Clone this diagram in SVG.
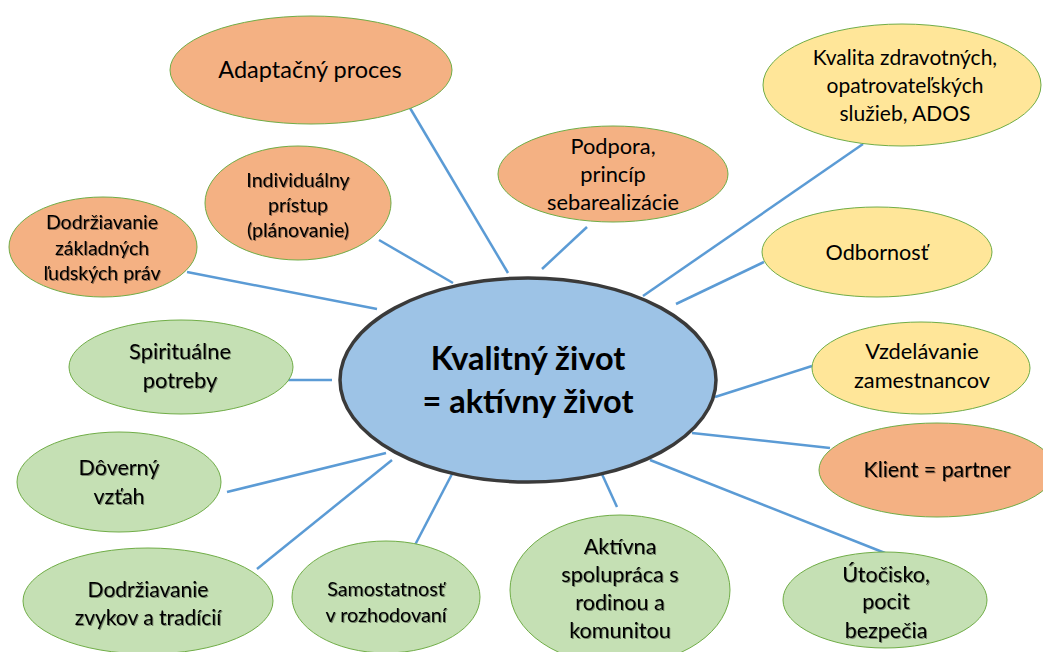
<svg xmlns="http://www.w3.org/2000/svg" width="1043" height="652" viewBox="0 0 1043 652">
<defs>
<filter id="sh" x="-10%" y="-10%" width="120%" height="130%">
<feDropShadow dx="1" dy="1" stdDeviation="0.6" flood-color="#000" flood-opacity="0.4"/>
</filter>
<style>
.n{stroke:#70AD47;stroke-width:1}
.o{fill:#F4B183}
.y{fill:#FFE699}
.g{fill:#C5E0B4}
.c{fill:#9DC3E6;stroke:#3A3A3A;stroke-width:3.5}
text{font-family:Lato,"Liberation Sans",sans-serif;fill:#000;text-anchor:middle}
.s{filter:url(#sh)}
.b{font-weight:bold;font-size:32.5px}
#links line{stroke:#5B9BD5;stroke-width:2.5}
</style>
</defs>
<rect width="1043" height="652" fill="#fff"/>
<g id="links">
<line x1="410" y1="108" x2="508" y2="273"/>
<line x1="379" y1="240" x2="453" y2="283"/>
<line x1="187" y1="272" x2="377" y2="309"/>
<line x1="587" y1="227" x2="542" y2="269"/>
<line x1="863" y1="144" x2="643" y2="296"/>
<line x1="764" y1="262" x2="676" y2="304"/>
<line x1="283" y1="380" x2="332" y2="380"/>
<line x1="227" y1="492" x2="386" y2="453"/>
<line x1="257" y1="569" x2="392" y2="460"/>
<line x1="415" y1="545" x2="452" y2="474"/>
<line x1="812" y1="366" x2="715" y2="397"/>
<line x1="830" y1="448" x2="692" y2="433"/>
<line x1="885" y1="553" x2="650" y2="460"/>
<line x1="617" y1="507" x2="601" y2="472"/>
</g>
<g id="center">
<ellipse class="c" cx="528" cy="380" rx="188" ry="102"/>
<text class="b" x="528" y="370">Kvalitný život</text>
<text class="b" x="528" y="413">= aktívny život</text>
</g>
<g id="adaptacny">
<ellipse class="n o" cx="311" cy="70" rx="141" ry="54"/>
<text x="310" y="78" font-size="23.5">Adaptačný proces</text>
</g>
<g id="individualny">
<ellipse class="n o" cx="298" cy="203" rx="93" ry="57"/>
<text class="s" font-size="19.5"><tspan x="298" y="187">Individuálny</tspan><tspan x="298" y="212">prístup</tspan><tspan x="298" y="237">(plánovanie)</tspan></text>
</g>
<g id="dodrziavanie-prav">
<ellipse class="n o" cx="103" cy="247" rx="94" ry="50"/>
<text class="s" font-size="19.5"><tspan x="102" y="229">Dodržiavanie</tspan><tspan x="102" y="255">základných</tspan><tspan x="102" y="280">ľudských práv</tspan></text>
</g>
<g id="podpora">
<ellipse class="n o" cx="613" cy="174" rx="115" ry="48"/>
<text font-size="21.8"><tspan x="613" y="154">Podpora,</tspan><tspan x="613" y="182">princíp</tspan><tspan x="613" y="210">sebarealizácie</tspan></text>
</g>
<g id="kvalita">
<ellipse class="n y" cx="902" cy="85" rx="139" ry="61"/>
<text font-size="21"><tspan x="905" y="65">Kvalita zdravotných,</tspan><tspan x="905" y="93">opatrovateľských</tspan><tspan x="905" y="121">služieb, ADOS</tspan></text>
</g>
<g id="odbornost">
<ellipse class="n y" cx="877" cy="252" rx="115" ry="45"/>
<text x="877" y="260" font-size="21.6">Odbornosť</text>
</g>
<g id="spiritualne">
<ellipse class="n g" cx="181" cy="367" rx="112" ry="47"/>
<text class="s" font-size="21.8"><tspan x="180" y="359">Spirituálne</tspan><tspan x="180" y="388">potreby</tspan></text>
</g>
<g id="doverny">
<ellipse class="n g" cx="119" cy="482" rx="102" ry="50"/>
<text class="s" font-size="21.5"><tspan x="119" y="475">Dôverný</tspan><tspan x="119" y="504">vzťah</tspan></text>
</g>
<g id="zvyky">
<ellipse class="n g" cx="148" cy="601" rx="125" ry="53"/>
<text class="s" font-size="21"><tspan x="148" y="597">Dodržiavanie</tspan><tspan x="148" y="625">zvykov a tradícií</tspan></text>
</g>
<g id="samostatnost">
<ellipse class="n g" cx="386" cy="597" rx="94" ry="56"/>
<text class="s" font-size="19.7"><tspan x="386" y="596">Samostatnosť</tspan><tspan x="386" y="622">v rozhodovaní</tspan></text>
</g>
<g id="aktivna">
<ellipse class="n g" cx="620" cy="590" rx="110" ry="75"/>
<text class="s" font-size="21.6"><tspan x="620" y="554">Aktívna</tspan><tspan x="620" y="582">spolupráca s</tspan><tspan x="620" y="610">rodinou a</tspan><tspan x="620" y="638">komunitou</tspan></text>
</g>
<g id="vzdelavanie">
<ellipse class="n y" cx="921" cy="368" rx="109" ry="46"/>
<text font-size="21.8"><tspan x="922" y="359">Vzdelávanie</tspan><tspan x="922" y="388">zamestnancov</tspan></text>
</g>
<g id="klient">
<ellipse class="n o" cx="937" cy="470" rx="118" ry="47"/>
<text class="s" x="937" y="477" font-size="21.3">Klient = partner</text>
</g>
<g id="utocisko">
<ellipse class="n g" cx="885" cy="600" rx="102" ry="48"/>
<text class="s" font-size="21.5"><tspan x="886" y="582">Útočisko,</tspan><tspan x="886" y="609">pocit</tspan><tspan x="886" y="638">bezpečia</tspan></text>
</g>
</svg>
